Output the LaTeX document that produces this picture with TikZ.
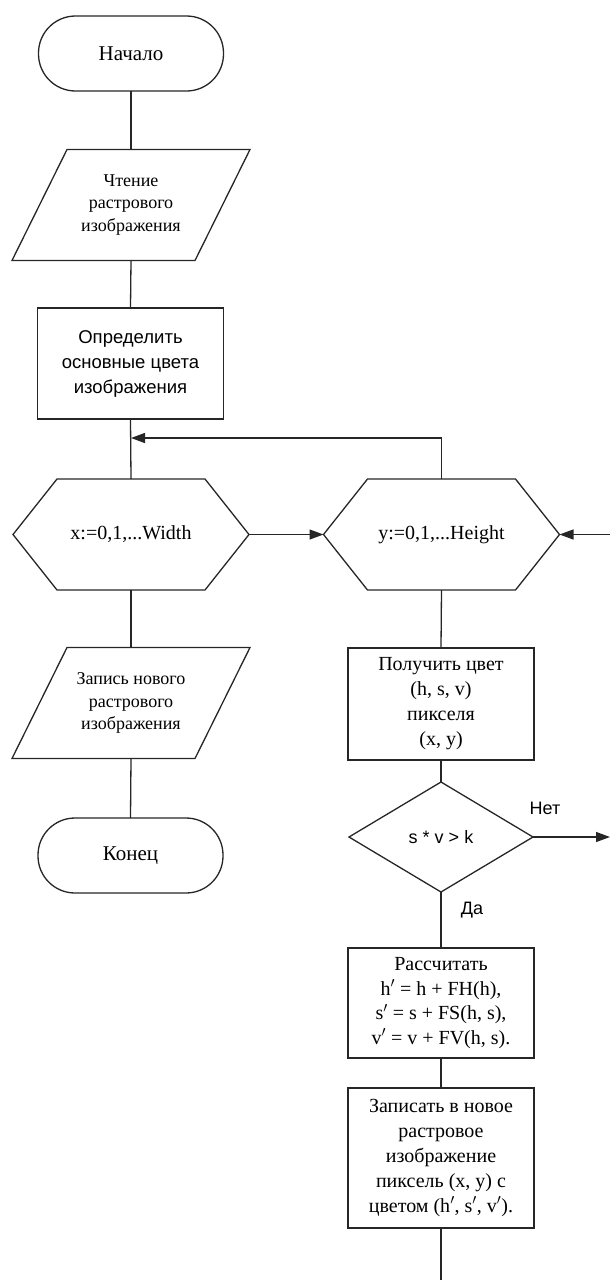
\documentclass[tikz,border=0pt]{standalone}
\usepackage{fontspec}
\setmainfont{Liberation Serif}
\newfontfamily\sansf{Liberation Sans}
\usetikzlibrary{arrows.meta,shapes.geometric}
\begin{document}
\begin{tikzpicture}[x=1pt,y=-1pt,
  ln/.style={line width=1.3pt, draw=black!85},
  arr/.style={ln, -{Triangle[length=14pt,width=10pt]}},
  term/.style={ln, rounded corners=37pt, minimum width=185pt, minimum height=75pt, inner sep=0pt, outer sep=0pt, font=\fontsize{21}{25}\selectfont},
  procbox/.style={ln, rectangle, minimum width=186pt, inner sep=0pt, outer sep=0pt, align=center},
  iobox/.style={rectangle, minimum width=238pt, minimum height=111pt, inner sep=0pt, outer sep=0pt, align=center, font=\fontsize{18}{22.5}\selectfont},
  hexbox/.style={rectangle, minimum width=236pt, minimum height=111pt, inner sep=0pt, outer sep=0pt, font=\fontsize{20}{24}\selectfont},
  decis/.style={ln, diamond, minimum width=184pt, minimum height=110pt, inner sep=0pt, outer sep=0pt, font=\sansf\fontsize{18}{22}\selectfont},
  lbl/.style={font=\sansf\fontsize{18}{22}\selectfont, inner sep=0pt}
]
\useasboundingbox (0,0) rectangle (610,1280);

% left column
\node[term] (start) at (131,53.5) {Начало};
\node[iobox] (read) at (131,205) {Чтение\\растрового\\изображения};
\draw[ln] ([xshift=55pt]read.north west) -- (read.north east) -- ([xshift=-55pt]read.south east) -- (read.south west) -- cycle;
\node[procbox, minimum height=111pt, font=\sansf\fontsize{18.5}{25}\selectfont] (colors) at (130.5,363.5) {Определить\\основные цвета\\изображения};
\coordinate (join) at (131,438);
\node[hexbox] (hx) at (131,534.5) {x:=0,1,...Width};
\draw[ln] (hx.west) -- ([xshift=44pt]hx.north west) -- ([xshift=-44pt]hx.north east) -- (hx.east) -- ([xshift=-44pt]hx.south east) -- ([xshift=44pt]hx.south west) -- cycle;
\node[iobox] (write) at (131,703) {Запись нового\\растрового\\изображения};
\draw[ln] ([xshift=55pt]write.north west) -- (write.north east) -- ([xshift=-55pt]write.south east) -- (write.south west) -- cycle;
\node[term] (end) at (130.5,855.5) {Конец};

% right column
\node[hexbox] (hy) at (441.5,534.5) {y:=0,1,...Height};
\draw[ln] (hy.west) -- ([xshift=44pt]hy.north west) -- ([xshift=-44pt]hy.north east) -- (hy.east) -- ([xshift=-44pt]hy.south east) -- ([xshift=44pt]hy.south west) -- cycle;
\node[procbox, minimum height=112pt, font=\fontsize{20}{25}\selectfont] (get) at (441,704) {Получить цвет\\(h, s, v)\\пикселя\\(x, y)};
\node[decis] (cond) at (441,837) {s * v > k};
\node[procbox, minimum height=110pt, font=\fontsize{20}{24.5}\selectfont] (calc) at (441,1003) {Рассчитать\\h$'$ = h + FH(h),\\s$'$ = s + FS(h, s),\\v$'$ = v + FV(h, s).};
\node[procbox, minimum height=140pt, font=\fontsize{20}{25}\selectfont] (save) at (441,1158) {Записать в новое\\растровое\\изображение\\пиксель (x, y) с\\цветом (h$'$, s$'$, v$'$).};
\coordinate (bottom) at (441,1280);
\coordinate (rin) at (610,534.5);
\coordinate (nout) at (610,837);

% connectors
\draw[ln] (start.south) -- (read.north);
\draw[ln] (read.south) -- (colors.north);
\draw[ln] (colors.south) -- (hx.north);
\draw[ln] (hx.south) -- (write.north);
\draw[ln] (write.south) -- (end.north);
\draw[arr] (hy.north) |- (join);
\draw[arr] (hx.east) -- (hy.west);
\draw[arr] (rin) -- (hy.east);
\draw[ln] (hy.south) -- (get.north);
\draw[ln] (get.south) -- (cond.north);
\draw[arr] (cond.east) -- (nout);
\draw[ln] (cond.south) -- (calc.north);
\draw[ln] (calc.south) -- (save.north);
\draw[ln] (save.south) -- (bottom);

\node[lbl] (no) at (545,808) {Нет};
\node[lbl] (yes) at (472,910) {Да};
\end{tikzpicture}
\end{document}
